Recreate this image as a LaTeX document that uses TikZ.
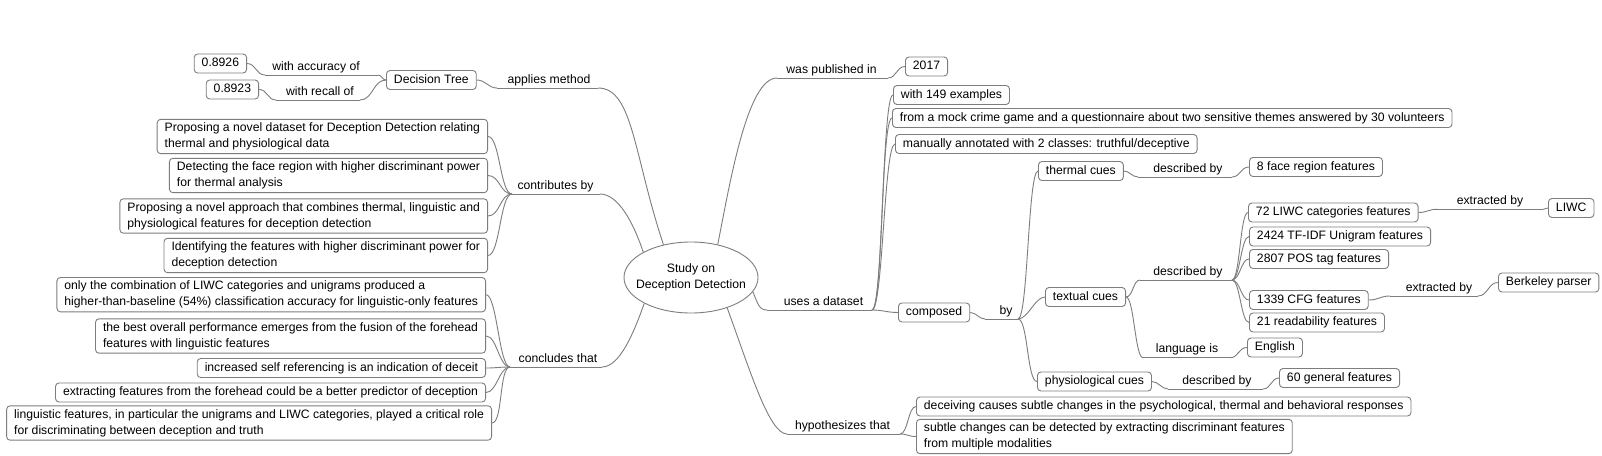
\documentclass[tikz,border=0pt]{standalone}
\usepackage{fontspec}
\setmainfont{Liberation Sans}
\usetikzlibrary{shapes.geometric}
\definecolor{linegray}{RGB}{125,125,125}
\definecolor{txt}{RGB}{0,0,0}
\newcommand\fs{\fontsize{12.2pt}{16pt}\selectfont}
\tikzset{
 mbox/.style={draw=linegray, rounded corners=3.5pt, fill=white, inner xsep=7.5pt, inner ysep=3.5pt, text height=9.2pt, text depth=2.8pt, font=\fs, text=txt, line width=0.9pt},
 mboxtwo/.style={draw=linegray, rounded corners=3.5pt, fill=white, inner xsep=7.5pt, inner ysep=3.5pt, align=left, font=\fs, text=txt, line width=0.9pt},
 elab/.style={anchor=south, inner xsep=0pt, inner ysep=2pt, text height=9.2pt, text depth=2.8pt, font=\fs, text=txt},
 conn/.style={draw=linegray, line width=0.9pt},
}
\begin{document}
\begin{tikzpicture}[x=1pt,y=-1pt]
\useasboundingbox (0,0) rectangle (1602,455);
\fill[white] (0,0) rectangle (1602,455);

% root
\node[ellipse, draw=linegray, line width=0.9pt, minimum width=134pt, minimum height=71pt, inner xsep=-20pt, inner ysep=0pt, align=center, font=\fs, text=txt, fill=white] (root) at (691,277.5) {Study on\\Deception Detection};

% left side boxes
\node[mbox, anchor=east] (v0926) at (247,63.5) {0.8926};
\node[mbox, anchor=east] (v0923) at (259,89.5) {0.8923};
\node[mbox, anchor=west] (dtree) at (386,80) {Decision Tree};
\node[mboxtwo, anchor=east] (c1) at (488,136.5) {Proposing a novel dataset for Deception Detection relating\\thermal and physiological data};
\node[mboxtwo, anchor=east] (c2) at (488,175.5) {Detecting the face region with higher discriminant power\\for thermal analysis};
\node[mboxtwo, anchor=east] (c3) at (488,216) {Proposing a novel approach that combines thermal, linguistic and\\physiological features for deception detection};
\node[mboxtwo, anchor=east] (c4) at (488,255.5) {Identifying the features with higher discriminant power for\\deception detection};
\node[mboxtwo, anchor=east] (k1) at (486,294.7) {only the combination of LIWC categories and unigrams produced a\\higher-than-baseline (54\%) classification accuracy for linguistic-only features};
\node[mboxtwo, anchor=east] (k2) at (486,336) {the best overall performance emerges from the fusion of the forehead\\features with linguistic features};
\node[mbox, anchor=east] (k3) at (486,368) {increased self referencing is an indication of deceit};
\node[mbox, anchor=east] (k4) at (486,392.5) {extracting features from the forehead could be a better predictor of deception};
\node[mboxtwo, anchor=east] (k5) at (492,423) {linguistic features, in particular the unigrams and LIWC categories, played a critical role\\for discriminating between deception and truth};

% right side boxes
\node[mbox, anchor=west] (y2017) at (905,66.5) {2017};
\node[mbox, anchor=west] (d1) at (893,95) {with 149 examples};
\node[mbox, anchor=west] (d2) at (892,118) {from a mock crime game and a questionnaire about two sensitive themes answered by 30 volunteers};
\node[mbox, anchor=west] (d3) at (895,144) {manually annotated with 2 classes: truthful/deceptive};
\node[mbox, anchor=west] (composed) at (898,312.5) {composed};
\node[mbox, anchor=west] (thermal) at (1038,171) {thermal cues};
\node[mbox, anchor=west] (face8) at (1249,167) {8 face region features};
\node[mbox, anchor=west] (textual) at (1045,297) {textual cues};
\node[mbox, anchor=west] (liwc72) at (1248,212.5) {72 LIWC categories features};
\node[mbox, anchor=west] (liwc) at (1548,208) {LIWC};
\node[mbox, anchor=west] (tfidf) at (1249,236.5) {2424 TF-IDF Unigram features};
\node[mbox, anchor=west] (pos) at (1249,259) {2807 POS tag features};
\node[mbox, anchor=west] (cfg) at (1249,300) {1339 CFG features};
\node[mbox, anchor=west] (berkeley) at (1498,282.5) {Berkeley parser};
\node[mbox, anchor=west] (read) at (1249,322.5) {21 readability features};
\node[mbox, anchor=west] (english) at (1247,347.5) {English};
\node[mbox, anchor=west] (physio) at (1037,381.5) {physiological cues};
\node[mbox, anchor=west] (gen60) at (1279,378) {60 general features};
\node[mbox, anchor=west] (h1) at (916,406.5) {deceiving causes subtle changes in the psychological, thermal and behavioral responses};
\node[mboxtwo, anchor=west] (h2) at (916,436.5) {subtle changes can be detected by extracting discriminant features\\from multiple modalities};

% edge labels
\node[elab] (lacc) at (316,75) {with accuracy of};
\node[elab] (lrec) at (320,100) {with recall of};
\node[elab] (lapp) at (549,88) {applies method};
\node[elab] (lcon) at (555.5,194) {contributes by};
\node[elab] (lconc) at (558,367) {concludes that};
\node[elab] (lpub) at (831.5,78) {was published in};
\node[elab] (luse) at (823.5,310) {uses a dataset};
\node[elab] (lby) at (1006,319) {by};
\node[elab] (ldescA) at (1188,177) {described by};
\node[elab] (ldescB) at (1188,280) {described by};
\node[elab] (lextA) at (1490,209.3) {extracted by};
\node[elab] (lextB) at (1439,296) {extracted by};
\node[elab] (llang) at (1187,357.7) {language is};
\node[elab] (ldescC) at (1217,389) {described by};
\node[elab] (lhyp) at (842.5,434) {hypothesizes that};

% underline end points
\coordinate (laccL) at (265,75);   \coordinate (laccR) at (378,75);
\coordinate (lrecL) at (276,100);  \coordinate (lrecR) at (360,100);
\coordinate (lappL) at (497,88);   \coordinate (lappR) at (598,88);
\coordinate (lconL) at (512,194);  \coordinate (lconR) at (600,194);
\coordinate (lconcL) at (510,367); \coordinate (lconcR) at (602,367);
\coordinate (lpubL) at (777,78);   \coordinate (lpubR) at (888,78);
\coordinate (luseL) at (767,310);  \coordinate (luseR) at (872,310);
\coordinate (lbyL) at (985,319);   \coordinate (lbyR) at (1018,319);
\coordinate (ldescAL) at (1138,177); \coordinate (ldescAR) at (1232,177);
\coordinate (ldescBL) at (1140,280); \coordinate (ldescBR) at (1232,280);
\coordinate (lextAL) at (1437,209.3); \coordinate (lextAR) at (1543,209.3);
\coordinate (lextBL) at (1390,296); \coordinate (lextBR) at (1478,296);
\coordinate (llangL) at (1143,357.7); \coordinate (llangR) at (1230,357.7);
\coordinate (ldescCL) at (1168,389); \coordinate (ldescCR) at (1263,389);
\coordinate (lhypL) at (787,434);  \coordinate (lhypR) at (900,434);

% underlines
\foreach \u in {lacc,lrec,lapp,lcon,lconc,lpub,luse,lby,ldescA,ldescB,lextA,lextB,llang,ldescC,lhyp}
  \draw[conn] (\u L) -- (\u R);

% left connectors
\draw[conn] (v0926.east) .. controls +(9,0) and +(-9,0) .. (laccL);
\draw[conn] (v0923.east) .. controls +(8.5,0) and +(-8.5,0) .. (lrecL);
\draw[conn] (laccR) .. controls +(4,0) and +(-4,0) .. (dtree.west);
\draw[conn] (lrecR) .. controls +(13,0) and +(-13,0) .. (dtree.west);
\draw[conn] (dtree.east) .. controls +(9,0) and +(-9,0) .. (lappL);
\draw[conn] (lappR) .. controls +(35,0) and +(-30,-90) .. (root.130);
\foreach \b in {c1,c2,c3,c4}
  \draw[conn] (\b.east) .. controls +(12,0) and +(-12,0) .. (lconL);
\draw[conn] (lconR) .. controls +(18,0) and +(-10,-30) .. (root.152);
\foreach \b in {k1,k2,k3,k4,k5}
  \draw[conn] (\b.east) .. controls +(11,0) and +(-11,0) .. (lconcL);
\draw[conn] (lconcR) .. controls +(18,0) and +(-10,28) .. (root.209);

% right connectors
\draw[conn] (root.51) .. controls +(12,-60) and +(-30,0) .. (lpubL);
\draw[conn] (lpubR) .. controls +(8.5,0) and +(-8.5,0) .. (y2017.west);
\draw[conn] (root.-13) .. controls +(5,12) and +(-8,0) .. (luseL);
\foreach \b in {d1,d2,d3,composed}
  \draw[conn] (luseR) .. controls +(11,0) and +(-11,0) .. (\b.west);
\draw[conn] (composed.east) .. controls +(6,0) and +(-6,0) .. (lbyL);
\foreach \b in {thermal,textual,physio}
  \draw[conn] (lbyR) .. controls +(10,0) and +(-10,0) .. (\b.west);
\draw[conn] (thermal.east) .. controls +(6,0) and +(-6,0) .. (ldescAL);
\draw[conn] (ldescAR) .. controls +(8.5,0) and +(-8.5,0) .. (face8.west);
\draw[conn] (textual.east) .. controls +(7,0) and +(-7,0) .. (ldescBL);
\draw[conn] (textual.east) .. controls +(8,0) and +(-8,0) .. (llangL);
\foreach \b in {liwc72,tfidf,pos,cfg,read}
  \draw[conn] (ldescBR) .. controls +(8,0) and +(-8,0) .. (\b.west);
\draw[conn] (liwc72.east) .. controls +(8.5,0) and +(-8.5,0) .. (lextAL);
\draw[conn] (lextAR) .. controls +(2.5,0) and +(-2.5,0) .. (liwc.west);
\draw[conn] (cfg.east) .. controls +(10,0) and +(-10,0) .. (lextBL);
\draw[conn] (lextBR) .. controls +(10,0) and +(-10,0) .. (berkeley.west);
\draw[conn] (llangR) .. controls +(8.5,0) and +(-8.5,0) .. (english.west);
\draw[conn] (physio.east) .. controls +(6.5,0) and +(-6.5,0) .. (ldescCL);
\draw[conn] (ldescCR) .. controls +(8,0) and +(-8,0) .. (gen60.west);
\draw[conn] (root.-40) .. controls +(22,60) and +(-18,0) .. (lhypL);
\foreach \b in {h1,h2}
  \draw[conn] (lhypR) .. controls +(8,0) and +(-8,0) .. (\b.west);
\end{tikzpicture}
\end{document}
